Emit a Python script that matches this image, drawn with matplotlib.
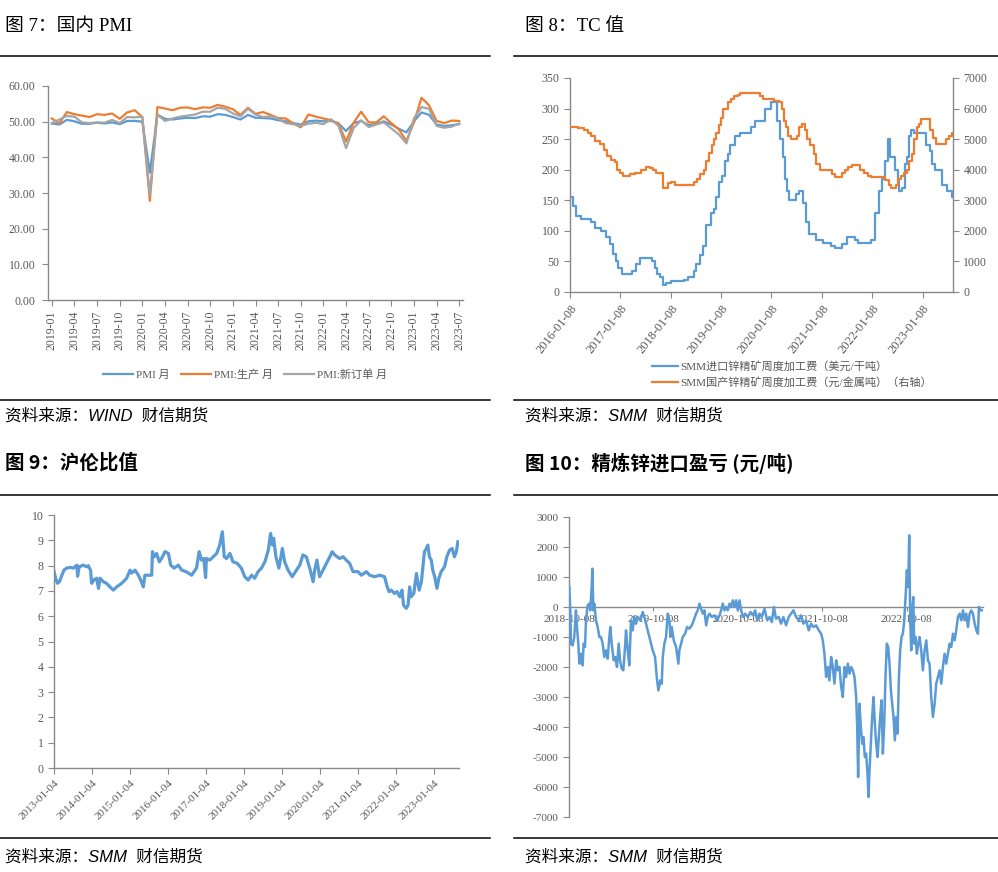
import numpy as np
import pandas as pd
import matplotlib
matplotlib.use("Agg")
import matplotlib.pyplot as plt
from matplotlib.lines import Line2D
from matplotlib.ticker import FormatStrFormatter

plt.rcParams['font.family'] = ['Liberation Serif', 'Noto Sans CJK SC']
plt.rcParams['axes.unicode_minus'] = False

# ---------------- 数据 ----------------
# 图7 国内PMI（2019-01 ~ 2023-07）
months = list(pd.period_range('2019-01', '2023-07', freq='M').strftime('%Y-%m'))
pmi = [49.5, 49.2, 50.5, 50.1, 49.4, 49.4, 49.7, 49.5, 49.8, 49.3, 50.2, 50.2,
       50.0, 35.7, 52.0, 50.8, 50.6, 50.9, 51.1, 51.0, 51.5, 51.4, 52.1, 51.9,
       51.3, 50.6, 51.9, 51.1, 51.0, 50.9, 50.4, 50.1, 49.6, 49.2, 50.1, 50.3,
       50.1, 50.2, 49.5, 47.4, 49.6, 50.2, 49.0, 49.4, 50.1, 49.2, 48.0, 47.0,
       50.1, 52.6, 51.9, 49.2, 48.8, 49.0, 49.3]
pmi_prod = [50.9, 49.5, 52.7, 52.1, 51.7, 51.3, 52.1, 51.9, 52.3, 50.8, 52.6, 53.2,
            51.3, 27.8, 54.1, 53.7, 53.2, 53.9, 54.0, 53.5, 54.0, 53.9, 54.7, 54.2,
            53.5, 51.9, 53.9, 52.2, 52.7, 51.9, 51.0, 50.9, 49.5, 48.4, 52.0, 51.4,
            50.9, 50.4, 49.5, 44.4, 49.7, 52.8, 49.8, 49.8, 51.5, 49.6, 47.8, 44.6,
            49.8, 56.7, 54.6, 50.2, 49.6, 50.3, 50.2]
pmi_order = [49.6, 50.6, 51.6, 51.4, 49.8, 49.6, 49.8, 49.7, 50.5, 49.6, 51.3, 51.2,
             51.4, 29.3, 52.0, 50.2, 50.9, 51.4, 51.7, 52.0, 52.8, 52.8, 53.9, 53.6,
             52.3, 51.5, 53.6, 52.0, 51.3, 51.5, 50.9, 49.6, 49.3, 48.8, 49.4, 49.7,
             49.3, 50.7, 48.8, 42.6, 48.2, 50.4, 48.5, 49.2, 49.8, 48.1, 46.4, 43.9,
             50.9, 54.1, 53.6, 48.8, 48.3, 48.6, 49.5]

# 图8 TC值（变化点，周度阶梯）
imp_dates = ['2016-01-08', '2016-01-29', '2016-02-22', '2016-03-30', '2016-06-10', '2016-07-05',
             '2016-08-22', '2016-09-28', '2016-10-22', '2016-11-16', '2016-12-05', '2016-12-22',
             '2017-01-16', '2017-04-05', '2017-04-29', '2017-06-02', '2017-08-28', '2017-09-14',
             '2017-10-01', '2017-10-25', '2017-11-13', '2017-12-07', '2018-01-12', '2018-04-11',
             '2018-05-12', '2018-06-23', '2018-07-12', '2018-08-05', '2018-08-30', '2018-09-23',
             '2018-10-25', '2018-11-16', '2018-12-05', '2018-12-24', '2019-01-15', '2019-02-04',
             '2019-02-23', '2019-03-12', '2019-04-17', '2019-05-23', '2019-08-09', '2019-09-09',
             '2019-11-20', '2020-01-08', '2020-02-19', '2020-03-09', '2020-03-28', '2020-04-15',
             '2020-05-02', '2020-05-16', '2020-07-04', '2020-07-26', '2020-08-26', '2020-09-12',
             '2020-10-08', '2020-11-26', '2021-01-14', '2021-03-15', '2021-04-09', '2021-06-01',
             '2021-07-12', '2021-09-01', '2021-09-25', '2021-12-29', '2022-01-30', '2022-02-23',
             '2022-03-19', '2022-04-12', '2022-05-01', '2022-05-18', '2022-06-24', '2022-07-10',
             '2022-07-21', '2022-08-11', '2022-08-30', '2022-09-16', '2022-09-28', '2022-10-18',
             '2022-11-08', '2023-02-03', '2023-02-27', '2023-03-14', '2023-04-09', '2023-05-26',
             '2023-07-01', '2023-08-07', '2023-08-14']
imp_tc = [155, 140, 125, 120, 115, 105, 100, 90, 78, 62, 50, 40,
          30, 35, 45, 55, 50, 40, 30, 25, 12, 15, 18, 20,
          25, 35, 45, 60, 75, 110, 130, 135, 155, 180, 190, 215,
          225, 240, 255, 260, 270, 280, 300, 310, 280, 250, 220, 185,
          165, 150, 160, 165, 145, 115, 95, 85, 80, 75, 72, 78,
          90, 85, 80, 85, 130, 165, 185, 215, 250, 220, 200, 185,
          165, 170, 210, 220, 255, 265, 260, 240, 230, 210, 200, 175,
          165, 155, 155]
dom_dates = ['2016-01-08', '2016-03-05', '2016-04-15', '2016-05-16', '2016-06-10', '2016-07-05',
             '2016-08-10', '2016-09-08', '2016-10-04', '2016-11-02', '2016-11-26', '2016-12-13',
             '2017-01-02', '2017-01-27', '2017-03-21', '2017-04-22', '2017-06-04', '2017-07-10',
             '2017-08-08', '2017-09-01', '2017-09-26', '2017-11-13', '2017-12-19', '2018-01-12',
             '2018-02-05', '2018-06-25', '2018-07-17', '2018-08-10', '2018-09-03', '2018-09-23',
             '2018-10-12', '2018-11-01', '2018-11-20', '2018-12-05', '2018-12-22', '2019-01-06',
             '2019-01-23', '2019-02-28', '2019-03-17', '2019-04-10', '2019-05-11', '2019-05-28',
             '2019-10-19', '2019-11-08', '2020-01-28', '2020-03-04', '2020-03-21', '2020-04-08',
             '2020-04-22', '2020-05-09', '2020-05-28', '2020-07-09', '2020-07-26', '2020-08-14',
             '2020-09-05', '2020-09-24', '2020-10-14', '2020-11-08', '2020-11-26', '2020-12-25',
             '2021-03-20', '2021-04-13', '2021-06-01', '2021-06-26', '2021-07-15', '2021-08-13',
             '2021-10-13', '2021-11-11', '2021-12-05', '2021-12-29', '2022-04-12', '2022-05-06',
             '2022-05-26', '2022-07-01', '2022-07-13', '2022-08-04', '2022-08-28', '2022-09-16',
             '2022-10-03', '2022-10-22', '2022-11-08', '2022-11-27', '2022-12-14', '2022-12-28',
             '2023-02-27', '2023-03-22', '2023-04-16', '2023-06-27', '2023-07-15', '2023-08-07',
             '2023-08-14']
dom_tc = [5400, 5350, 5300, 5200, 5100, 4950, 4850, 4650, 4450, 4330, 4250, 4000,
          3900, 3800, 3850, 3900, 4000, 4100, 4050, 4000, 3900, 3400, 3550, 3600,
          3500, 3600, 3700, 3850, 4000, 4300, 4550, 4800, 5000, 5200, 5450, 5700,
          6000, 6200, 6300, 6400, 6450, 6500, 6400, 6300, 6250, 6200, 6000, 5600,
          5400, 5100, 5000, 5100, 5400, 5500, 5300, 5000, 4800, 4500, 4200, 4000,
          3850, 3750, 3900, 4000, 4100, 4150, 4000, 3900, 3800, 3750, 3650, 3500,
          3400, 3500, 3700, 3800, 3900, 4000, 4300, 4500, 5000, 5400, 5500, 5650,
          5300, 5050, 4850, 5000, 5100, 5200, 5200]
tc_ticks = ['2016-01-08', '2017-01-08', '2018-01-08', '2019-01-08', '2020-01-08',
            '2021-01-08', '2022-01-08', '2023-01-08']

# 图9 沪伦比值（时间用小数年表示）
ratio_t = [2013.01, 2013.05, 2013.10, 2013.15, 2013.21, 2013.27, 2013.34, 2013.43, 2013.52, 2013.61,
           2013.63, 2013.67, 2013.78, 2013.87, 2013.91, 2013.97, 2014.00, 2014.06, 2014.13, 2014.18,
           2014.22, 2014.31, 2014.39, 2014.48, 2014.57, 2014.66, 2014.79, 2014.92, 2015.01, 2015.05,
           2015.14, 2015.23, 2015.31, 2015.36, 2015.40, 2015.49, 2015.58, 2015.60, 2015.65, 2015.71,
           2015.78, 2015.84, 2015.93, 2016.02, 2016.08, 2016.17, 2016.28, 2016.37, 2016.50, 2016.63,
           2016.76, 2016.83, 2016.89, 2016.95, 2017.00, 2017.02, 2017.11, 2017.20, 2017.29, 2017.37,
           2017.44, 2017.49, 2017.55, 2017.64, 2017.72, 2017.83, 2017.94, 2018.03, 2018.12, 2018.21,
           2018.29, 2018.38, 2018.47, 2018.56, 2018.65, 2018.71, 2018.76, 2018.79, 2018.85, 2018.93,
           2019.02, 2019.08, 2019.17, 2019.28, 2019.39, 2019.48, 2019.56, 2019.65, 2019.74, 2019.83,
           2019.87, 2019.93, 2020.00, 2020.09, 2020.18, 2020.27, 2020.33, 2020.40, 2020.53, 2020.62,
           2020.70, 2020.79, 2020.88, 2021.01, 2021.10, 2021.23, 2021.32, 2021.45, 2021.58, 2021.71,
           2021.78, 2021.83, 2021.89, 2021.97, 2022.04, 2022.11, 2022.17, 2022.21, 2022.28, 2022.33,
           2022.37, 2022.41, 2022.48, 2022.55, 2022.62, 2022.68, 2022.72, 2022.76, 2022.81, 2022.85,
           2022.89, 2022.94, 2022.98, 2023.03, 2023.09, 2023.14, 2023.20, 2023.29, 2023.35, 2023.42,
           2023.49, 2023.55, 2023.60, 2023.64]
ratio_v = [7.76, 7.50, 7.30, 7.36, 7.60, 7.82, 7.90, 7.93, 7.90, 8.02,
           7.58, 7.95, 8.02, 7.95, 8.00, 7.82, 7.30, 7.43, 7.50, 7.10,
           7.50, 7.36, 7.30, 7.16, 7.03, 7.16, 7.30, 7.50, 7.82, 7.70,
           7.82, 7.62, 7.36, 7.16, 7.62, 7.62, 7.62, 8.55, 8.35, 8.48,
           8.15, 8.28, 8.55, 8.48, 8.02, 7.90, 8.02, 7.82, 7.75, 7.62,
           7.90, 8.55, 8.22, 8.28, 7.53, 8.28, 8.22, 8.35, 8.48, 8.81,
           9.34, 8.35, 8.28, 8.48, 8.15, 8.09, 7.90, 7.56, 7.43, 7.62,
           7.50, 7.76, 7.90, 8.15, 8.61, 9.27, 8.81, 9.08, 8.35, 7.90,
           8.68, 8.15, 7.82, 7.56, 7.82, 8.02, 8.42, 8.35, 7.90, 7.36,
           7.82, 8.22, 7.56, 7.82, 8.09, 8.35, 8.55, 8.42, 8.28, 8.35,
           8.22, 8.09, 7.76, 7.76, 7.62, 7.76, 7.62, 7.56, 7.62, 7.56,
           7.16, 6.97, 7.03, 6.90, 6.97, 6.77, 7.03, 6.44, 6.31, 6.44,
           7.16, 6.77, 6.90, 7.69, 7.03, 7.36, 7.95, 8.55, 8.68, 8.81,
           8.35, 8.22, 7.82, 7.56, 7.10, 7.50, 7.76, 7.95, 8.35, 8.61,
           8.68, 8.35, 8.55, 8.94]
ratio_ticks = ['2013-01-04', '2014-01-04', '2015-01-04', '2016-01-04', '2017-01-04', '2018-01-04',
               '2019-01-04', '2020-01-04', '2021-01-04', '2022-01-04', '2023-01-04']

# 图10 精炼锌进口盈亏（时间用小数年表示）
profit_t = [2018.770, 2018.782, 2018.790, 2018.810, 2018.829, 2018.849, 2018.861, 2018.877, 2018.889, 2018.908,
            2018.928, 2018.940, 2018.956, 2018.968, 2018.987, 2019.007, 2019.019, 2019.035, 2019.043, 2019.055,
            2019.066, 2019.086, 2019.106, 2019.126, 2019.145, 2019.165, 2019.185, 2019.205, 2019.225, 2019.244,
            2019.256, 2019.272, 2019.296, 2019.315, 2019.335, 2019.355, 2019.371, 2019.391, 2019.410, 2019.430,
            2019.442, 2019.462, 2019.481, 2019.501, 2019.521, 2019.541, 2019.561, 2019.580, 2019.612, 2019.640,
            2019.659, 2019.679, 2019.699, 2019.730, 2019.758, 2019.786, 2019.806, 2019.825, 2019.849, 2019.865,
            2019.877, 2019.896, 2019.916, 2019.936, 2019.956, 2019.968, 2019.983, 2020.007, 2020.035, 2020.062,
            2020.074, 2020.094, 2020.114, 2020.142, 2020.165, 2020.193, 2020.221, 2020.244, 2020.272, 2020.292,
            2020.312, 2020.331, 2020.351, 2020.371, 2020.391, 2020.410, 2020.430, 2020.458, 2020.489, 2020.521,
            2020.549, 2020.568, 2020.588, 2020.608, 2020.628, 2020.647, 2020.667, 2020.687, 2020.707, 2020.727,
            2020.746, 2020.766, 2020.786, 2020.806, 2020.825, 2020.853, 2020.885, 2020.916, 2020.944, 2020.972,
            2020.995, 2021.023, 2021.051, 2021.082, 2021.114, 2021.142, 2021.169, 2021.193,
            2021.219, 2021.251, 2021.278, 2021.306, 2021.338, 2021.369, 2021.397, 2021.425, 2021.456,
            2021.488, 2021.515, 2021.543, 2021.575, 2021.606, 2021.634, 2021.662, 2021.693, 2021.725, 2021.753,
            2021.772, 2021.792, 2021.812, 2021.832, 2021.851, 2021.871, 2021.891, 2021.911, 2021.931, 2021.950,
            2021.970, 2021.990, 2022.010, 2022.029, 2022.049, 2022.069, 2022.089, 2022.108, 2022.128, 2022.148,
            2022.168, 2022.180, 2022.191, 2022.207, 2022.223, 2022.239, 2022.255, 2022.270, 2022.286, 2022.302,
            2022.314, 2022.326, 2022.342, 2022.357, 2022.373, 2022.389, 2022.405, 2022.421, 2022.436, 2022.452,
            2022.468, 2022.484, 2022.500, 2022.515, 2022.531, 2022.547, 2022.563, 2022.579, 2022.595, 2022.610,
            2022.626, 2022.642, 2022.658, 2022.674, 2022.689, 2022.705, 2022.721, 2022.737, 2022.753, 2022.768,
            2022.784, 2022.796, 2022.808, 2022.820, 2022.832, 2022.844, 2022.855, 2022.871, 2022.887, 2022.903,
            2022.919, 2022.938, 2022.958, 2022.978, 2022.998, 2023.018, 2023.037, 2023.057, 2023.077, 2023.097,
            2023.116, 2023.136, 2023.156, 2023.176, 2023.195, 2023.215, 2023.235, 2023.255, 2023.274, 2023.294,
            2023.314, 2023.334, 2023.353, 2023.373, 2023.393, 2023.413, 2023.433, 2023.452, 2023.472, 2023.492,
            2023.512, 2023.531, 2023.551, 2023.571, 2023.591, 2023.610, 2023.622, 2023.638, 2023.665]
profit_v = [667, -111, -1222, -1280, -1000, -111, -667, -1222, -1889, -1556,
            -1944, -1222, -1333, -444, 55, 111, -111, 667, 1278, -111,
            111, -444, -667, -1000, -1000, -1222, -1667, -1444, -1722, -1000,
            -667, -1222, -1778, -1667, -2000, -1222, -1778, -2056, -2111, -1333,
            -778, -1444, -1944, -444, -778, -333, -556, -333, -444, -167,
            -333, -556, -778, -1111, -1444, -1667, -2333, -2778, -2444, -2556,
            -1667, -1222, -1000, -222, -444, -1000, -667, -1111, -1333, -1889,
            -1444, -1222, -1000, -889, -667, -722, -611, -444, -222, -111,
            111, -56, -222, -111, -611, -333, -222, -333, -278, -444,
            -278, -111, 111, -111, 0, -111, 111, 0, 222, 0,
            222, -111, 222, -111, -333, -222, -333, -167, -278, -111,
            -444, -222, -333, -56, -444, -333, -500, 0,
            -389, -333, -556, -333, -611, -333, -222, -111, -333,
            -444, -278, -556, -444, -778, -556, -667, -611, -778, -889,
            -1111, -1556, -2333, -2000, -2444, -1667, -2000, -2556, -1778, -2111,
            -2000, -2667, -3000, -2000, -2333, -1889, -2222, -2000, -2111, -2333,
            -3000, -4000, -5667, -3222, -4000, -4556, -4333, -5000, -4889, -5556,
            -6333, -5444, -4556, -3667, -3000, -3889, -4556, -5000, -4333, -3667,
            -3111, -4889, -3889, -2333, -1222, -1333, -1889, -2778, -3222, -3667,
            -4444, -3667, -4222, -2333, -1444, -1000, -889, -444, 333, 1222,
            667, 2389, -444, -1444, -111, 333, -1222, -1000, -1556, -1222,
            -1000, -1444, -2111, -1444, -1111, -1778, -1889, -3000, -3667, -3222,
            -2556, -2333, -2111, -2556, -2000, -1556, -1889, -1556, -1222, -1333,
            -889, -1111, -778, -333, -222, -444, -111, -444, -222, -667,
            -222, -111, -222, -556, -778, -889, 0, -111, -111]
profit_ticks = ['2018-10-08', '2019-10-08', '2020-10-08', '2021-10-08', '2022-10-08']

# ---------------- 样式 ----------------
W, H = 998, 872
GRAY = '#898989'
TXT = '#595959'
BLUE = '#5B9BD5'
ORANGE = '#ED7D31'
LGRAY = '#A5A5A5'


def box(l, t, r, b):
    return [l / W, 1 - b / H, (r - l) / W, (b - t) / H]


def dec_year(s):
    ts = pd.Timestamp(s)
    return ts.year + (ts.dayofyear - 1) / 365.25


def style(ax, spines, size=8.5):
    for s in ['top', 'right', 'left', 'bottom']:
        ax.spines[s].set_visible(s in spines)
        ax.spines[s].set_color(GRAY)
        ax.spines[s].set_linewidth(1.0)
    ax.tick_params(colors=GRAY, labelcolor=TXT, labelsize=size, length=4, width=0.8)
    ax.patch.set_alpha(0)


def hline(y, x0, x1):
    fig.add_artist(Line2D([x0 / W, x1 / W], [1 - y / H] * 2, color='black', lw=1.1,
                          transform=fig.transFigure))


fig = plt.figure(figsize=(9.98, 8.72), dpi=100)

# 标题、横线、来源
title_serif = dict(fontsize=13.5, va='center', family=['Liberation Serif', 'Noto Sans CJK SC'])
title_bold = dict(fontsize=14, va='center', fontweight='bold', family=['Noto Sans CJK SC'])
src = dict(fontsize=12, va='center', style='italic', color='black',
           family=['Liberation Sans', 'Noto Sans CJK SC'])

fig.text(5 / W, 1 - 26 / H, '图 7：国内 PMI', **title_serif)
fig.text(525 / W, 1 - 26 / H, '图 8：TC 值', **title_serif)
fig.text(5 / W, 1 - 463 / H, '图 9：沪伦比值', **title_bold)
fig.text(525 / W, 1 - 463 / H, '图 10：精炼锌进口盈亏 (元/吨)', **title_bold)
fig.text(5 / W, 1 - 416 / H, '资料来源：WIND  财信期货', **src)
fig.text(525 / W, 1 - 416 / H, '资料来源：SMM  财信期货', **src)
fig.text(5 / W, 1 - 857 / H, '资料来源：SMM  财信期货', **src)
fig.text(525 / W, 1 - 857 / H, '资料来源：SMM  财信期货', **src)
for y in [56.5, 400, 495, 838]:
    hline(y, 0, 490)
    hline(y, 514, 998)

# 图7
ax1 = fig.add_axes(box(48, 86, 463, 300))
style(ax1, ['left', 'bottom'], 8.5)
ax1.tick_params(axis='y', pad=5)
x = np.arange(len(months))
l1, = ax1.plot(x, pmi, color=BLUE, lw=1.6)
l2, = ax1.plot(x, pmi_prod, color=ORANGE, lw=1.6)
l3, = ax1.plot(x, pmi_order, color=LGRAY, lw=1.6)
ax1.set_xlim(-0.5, len(months) - 0.5)
ax1.set_ylim(0, 60)
ax1.set_yticks(np.arange(0, 61, 10))
ax1.yaxis.set_major_formatter(FormatStrFormatter('%.2f'))
ax1.set_xticks(x[::3], months[::3], rotation=90)
fig.legend([l1, l2, l3], ['PMI 月', 'PMI:生产 月', 'PMI:新订单 月'], loc='center',
           bbox_to_anchor=(245 / W, 1 - 375 / H), ncol=3, frameon=False, fontsize=8,
           handlelength=2.7, columnspacing=1.0, handletextpad=0.3, labelcolor=TXT)

# 图8
ax2 = fig.add_axes(box(570, 78, 953, 292))
style(ax2, ['left', 'bottom'], 8.5)
b1, = ax2.plot(pd.to_datetime(imp_dates), imp_tc, drawstyle='steps-post', color=BLUE, lw=1.6)
ax2.set_ylim(0, 350)
ax2.set_yticks(np.arange(0, 351, 50))
ax2.set_xlim(pd.Timestamp('2016-01-08'), pd.Timestamp('2023-08-16'))
ax2.set_xticks(pd.to_datetime(tc_ticks), tc_ticks, rotation=52, ha='right', rotation_mode='anchor',
               fontsize=9)
ax2r = ax2.twinx()
style(ax2r, ['right'], 8.5)
b2, = ax2r.plot(pd.to_datetime(dom_dates), dom_tc, drawstyle='steps-post', color=ORANGE, lw=1.6)
ax2r.set_ylim(0, 7000)
ax2r.set_yticks(np.arange(0, 7001, 1000))
fig.legend([b1, b2], ['SMM进口锌精矿周度加工费（美元/干吨）', 'SMM国产锌精矿周度加工费（元/金属吨）（右轴）'],
           loc='center left', bbox_to_anchor=(646 / W, 1 - 374.5 / H), frameon=False, fontsize=8,
           borderpad=0, handlelength=2.4, handletextpad=0.2, labelspacing=0.5, labelcolor=TXT)

# 图9
ax3 = fig.add_axes(box(54, 515, 459, 768))
style(ax3, ['left', 'bottom'], 8.5)
ax3.tick_params(axis='x', labelsize=8)
ax3.plot(ratio_t, ratio_v, color=BLUE, lw=2.3)
ax3.set_ylim(0, 10)
ax3.set_yticks(np.arange(0, 11, 1))
ax3.set_xlim(dec_year(ratio_ticks[0]), 2023.67)
ax3.set_xticks([dec_year(s) for s in ratio_ticks], ratio_ticks, rotation=45, ha='right',
               rotation_mode='anchor')

# 图10
ax4 = fig.add_axes(box(569, 517, 983, 817))
style(ax4, ['left', 'bottom'], 8)
ax4.spines['bottom'].set_position(('data', 0))
ax4.plot(profit_t, profit_v, color=BLUE, lw=1.8, zorder=3)
ax4.set_ylim(-7000, 3000)
ax4.set_yticks(np.arange(-7000, 3001, 1000))
ax4.set_xlim(dec_year(profit_ticks[0]), 2023.67)
ax4.set_xticks([dec_year(s) for s in profit_ticks], profit_ticks)
ax4.tick_params(axis='x', length=3, pad=3)

fig.savefig('out.png', dpi=100)
